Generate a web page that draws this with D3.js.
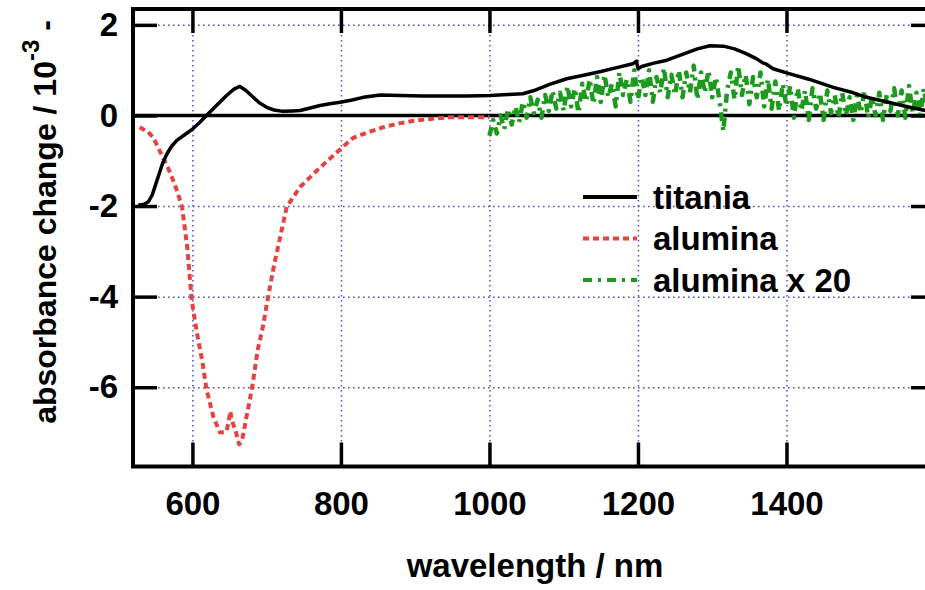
<!DOCTYPE html>
<html>
<head>
<meta charset="utf-8">
<script src="https://cdn.jsdelivr.net/npm/d3@7"></script>
<style>
  body { margin: 0; background: #fff; }
  svg { display: block; font-family: "Liberation Sans", Arial, Helvetica, sans-serif; font-weight: bold; }
  .grid line { stroke: #4b4bd6; stroke-width: 1.5; stroke-dasharray: 1.6,3.4; }
  .grid path { display: none; }
  .axis path { display: none; }
  .axis line { stroke: #000; stroke-width: 3.5; }
  .axis text { fill: #000; }
</style>
</head>
<body>
<div id="chart"></div>
<script>
// tick labels
var xTicks = [600, 800, 1000, 1200, 1400, 1600];
var yTicks = [2, 0, -2, -4, -6];

// titania (solid black)
var titaniaNm = [527,535,541,546,552,560,566,572,579,590,601,610,619,630,646,656,664,672,682,690,700,710,722,735,745,760,772,785,799,815,830,853,880,910,940,970,1001,1025,1045,1060,1080,1104,1130,1150,1170,1193,1198,1200,1205,1220,1239,1260,1280,1297,1315,1330,1345,1360,1368,1372,1382,1400,1430,1463,1490,1508,1540,1566,1587,1600];
var titaniaVal = [-1.98,-1.96,-1.9,-1.75,-1.45,-1.05,-0.84,-0.68,-0.55,-0.42,-0.29,-0.15,0.0,0.18,0.44,0.58,0.64,0.55,0.4,0.28,0.18,0.12,0.09,0.1,0.11,0.17,0.22,0.26,0.29,0.34,0.4,0.45,0.44,0.43,0.43,0.43,0.44,0.46,0.48,0.55,0.68,0.81,0.9,0.97,1.05,1.14,1.2,1.03,1.08,1.15,1.22,1.35,1.47,1.54,1.53,1.47,1.37,1.25,1.16,1.14,1.03,0.94,0.8,0.62,0.5,0.4,0.28,0.18,0.11,0.08];

// alumina (red dotted)
var aluminaNm = [529,540,547,553,560,567,574,580,586,593,599,606,613,619,628,637,643,646,649,651,653,655,658,660,663,666,668,673,680,684,688,695,700,710,720,727,745,768,790,816,835,857,880,902,925,947,975,1000];
var aluminaVal = [-0.26,-0.36,-0.48,-0.68,-0.92,-1.15,-1.43,-1.7,-2.02,-2.9,-4.07,-4.8,-5.39,-6.05,-6.64,-7.0,-6.99,-6.97,-6.75,-6.53,-6.7,-6.82,-6.95,-7.08,-7.26,-7.2,-7.08,-6.64,-6.05,-5.61,-5.17,-4.66,-4.18,-3.3,-2.55,-2.02,-1.58,-1.21,-0.88,-0.5,-0.38,-0.26,-0.17,-0.11,-0.07,-0.04,-0.04,-0.04];

// alumina x 20 (green dash-dot), 1000..1600 nm every 5 nm
var alumina20Start = 1000, alumina20Step = 5;
var alumina20Val = [-0.45,-0.1,-0.4,0.0,-0.3,0.15,-0.2,0.2,-0.15,0.3,
  -0.05,0.4,0.05,0.35,-0.05,0.45,0.1,0.55,0.15,0.5,
  0.1,0.65,0.2,0.6,0.05,0.7,0.3,0.8,0.25,0.85,
  0.3,0.9,0.4,0.7,0.2,0.95,0.45,0.8,0.3,1.0,
  0.35,0.85,0.45,1.0,0.3,0.85,0.5,1.05,0.4,0.9,
  0.45,1.0,0.4,0.95,0.5,1.1,0.35,0.95,0.5,1.0,
  0.4,0.85,0.3,-0.35,0.55,0.95,0.35,1.1,0.45,0.9,
  0.25,0.85,0.4,0.95,0.2,0.8,0.15,0.75,0.1,0.7,
  0.2,0.65,-0.05,0.6,0.1,0.55,-0.1,0.6,0.15,0.5,
  -0.1,0.55,0.05,0.45,-0.05,0.5,0.0,0.4,-0.1,0.45,
  0.05,0.55,-0.05,0.4,0.0,0.5,-0.1,0.45,0.1,0.6,
  0.0,0.55,-0.05,0.65,0.05,0.5,0.0,0.6,0.1,0.55,0.2];

var seriesNames = ["titania", "alumina", "alumina x 20"];

var W = 925, H = 590;
var plot = {left: 133, right: 935, top: 9, bottom: 466.5};

var x = d3.scaleLinear().domain([520, 1600]).range([plot.left, plot.right]);
var y = d3.scaleLinear().domain([-7.75, 2.35]).range([plot.bottom, plot.top]);

var svg = d3.select("#chart").append("svg")
    .attr("width", W)
    .attr("height", H);

svg.append("defs").append("clipPath")
    .attr("id", "clip")
  .append("rect")
    .attr("x", plot.left)
    .attr("y", plot.top)
    .attr("width", plot.right - plot.left)
    .attr("height", plot.bottom - plot.top);

// grid
svg.append("g")
    .attr("class", "grid")
    .attr("transform", "translate(0," + plot.bottom + ")")
    .call(d3.axisBottom(x).tickValues(xTicks).tickFormat("").tickSize(-(plot.bottom - plot.top)).tickSizeOuter(0));
svg.append("g")
    .attr("class", "grid")
    .attr("transform", "translate(" + plot.left + ",0)")
    .call(d3.axisLeft(y).tickValues(yTicks).tickFormat("").tickSize(-(plot.right - plot.left)).tickSizeOuter(0));

// zero line
svg.append("line")
    .attr("x1", plot.left).attr("x2", plot.right)
    .attr("y1", y(0)).attr("y2", y(0))
    .attr("stroke", "#000")
    .attr("stroke-width", 3.5);

var line = d3.line()
    .x(function(d) { return x(d[0]); })
    .y(function(d) { return y(d[1]); });

var titania = titaniaNm.map(function(n, i) { return [n, titaniaVal[i]]; });
var alumina = aluminaNm.map(function(n, i) { return [n, aluminaVal[i]]; });
var alumina20 = alumina20Val.map(function(v, i) { return [alumina20Start + i * alumina20Step, v]; });

var styles = [
  {stroke: "#000", width: 3.5, dash: null},
  {stroke: "#e6423f", width: 4, dash: "6,4"},
  {stroke: "#1d9a1d", width: 4.5, dash: "9,6,3,6"}
];

var curves = svg.append("g").attr("clip-path", "url(#clip)");
[[alumina, 1], [alumina20, 2], [titania, 0]].forEach(function(p) {
  var s = styles[p[1]];
  curves.append("path")
      .datum(p[0])
      .attr("fill", "none")
      .attr("stroke", s.stroke)
      .attr("stroke-width", s.width)
      .attr("stroke-dasharray", s.dash)
      .attr("stroke-linejoin", "round")
      .attr("d", line);
});

// axes with inward ticks
function fontify(g) {
  g.attr("font-family", null).attr("font-size", null);
  g.selectAll("text").style("font-size", "33px");
}
var plain = function(d) { return String(d); };

svg.append("g")
    .attr("class", "axis")
    .attr("transform", "translate(0," + plot.bottom + ")")
    .call(d3.axisBottom(x).tickValues(xTicks.slice(0, 5)).tickFormat(plain).tickSize(-24).tickSizeOuter(0).tickPadding(25))
    .call(fontify);
svg.append("g")
    .attr("class", "axis")
    .attr("transform", "translate(0," + plot.top + ")")
    .call(d3.axisTop(x).tickValues(xTicks).tickFormat("").tickSize(-24).tickSizeOuter(0));
svg.append("g")
    .attr("class", "axis")
    .attr("transform", "translate(" + plot.left + ",0)")
    .call(d3.axisLeft(y).tickValues(yTicks).tickFormat(plain).tickSize(-24).tickSizeOuter(0).tickPadding(15))
    .call(fontify);
svg.append("g")
    .attr("class", "axis")
    .attr("transform", "translate(" + plot.right + ",0)")
    .call(d3.axisRight(y).tickValues(yTicks).tickFormat("").tickSize(-24).tickSizeOuter(0));

// frame
svg.append("rect")
    .attr("x", plot.left)
    .attr("y", plot.top)
    .attr("width", plot.right - plot.left)
    .attr("height", plot.bottom - plot.top)
    .attr("fill", "none")
    .attr("stroke", "#000")
    .attr("stroke-width", 4);

// axis titles
svg.append("text")
    .attr("x", 535)
    .attr("y", 577)
    .attr("text-anchor", "middle")
    .style("font-size", "33px")
    .text("wavelength / nm");

var yl = svg.append("text")
    .attr("transform", "translate(56,222) rotate(-90)")
    .attr("text-anchor", "middle")
    .style("font-size", "32px");
yl.append("tspan").text("absorbance change / 10");
yl.append("tspan").attr("dy", -17).style("font-size", "24px").text("-3");
yl.append("tspan").attr("dy", 17).text(" -");

// legend
var legend = svg.append("g");
seriesNames.forEach(function(name, i) {
  var s = styles[i];
  var ly = 197 + i * 41.5;
  legend.append("line")
      .attr("x1", 583).attr("x2", 637)
      .attr("y1", ly).attr("y2", ly)
      .attr("stroke", s.stroke)
      .attr("stroke-width", 4)
      .attr("stroke-dasharray", s.dash);
  legend.append("text")
      .attr("x", 653)
      .attr("y", ly)
      .attr("dy", "0.35em")
      .style("font-size", "33px")
      .text(name);
});
</script>
</body>
</html>
